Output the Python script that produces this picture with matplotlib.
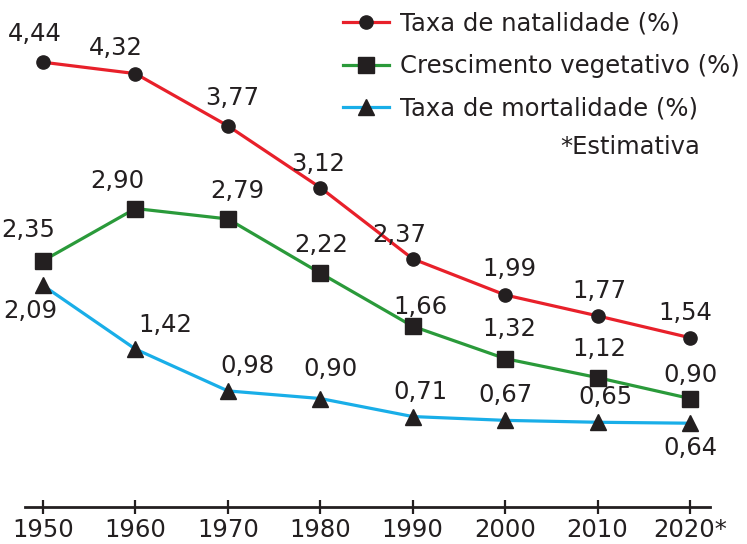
import matplotlib.pyplot as plt

plt.rcParams['font.family'] = ['DejaVu Sans']

# dados
anos = [1950, 1960, 1970, 1980, 1990, 2000, 2010, 2020]
rotulos_anos = ["1950", "1960", "1970", "1980", "1990", "2000", "2010", "2020*"]
natalidade = [4.44, 4.32, 3.77, 3.12, 2.37, 1.99, 1.77, 1.54]
crescimento = [2.35, 2.90, 2.79, 2.22, 1.66, 1.32, 1.12, 0.90]
mortalidade = [2.09, 1.42, 0.98, 0.90, 0.71, 0.67, 0.65, 0.64]

# deslocamento dos rotulos (pixels)
off_nat = [(-8, 28), (-20, 26), (4, 28), (-2, 24), (-13, 24), (4, 26), (2, 25), (-5, 25)]
off_cre = [(-15, 31), (-18, 28), (9, 28), (1, 28), (8, 19), (4, 30), (2, 29), (0, 24)]
off_mor = [(-13, -26), (30, 24), (20, 25), (10, 30), (8, 25), (0, 25), (8, 25), (0, -25)]

COR_MARC = '#231f20'
FS = 17.5


def fmt(v):
    return f"{v:.2f}".replace('.', ',')


fig = plt.figure(figsize=(7.47, 5.44), dpi=100)
ax = fig.add_axes([25 / 747, 37 / 544, 685 / 747, 507 / 544])

series = [
    (natalidade, '#e8202a', 'o', 9.5, "Taxa de natalidade (%)", off_nat),
    (crescimento, '#2a9a3a', 's', 11, "Crescimento vegetativo (%)", off_cre),
    (mortalidade, '#19aee8', '^', 12, "Taxa de mortalidade (%)", off_mor),
]

handles = []
for vals, cor, marc, ms, nome, offs in series:
    h, = ax.plot(anos, vals, color=cor, lw=2.3, marker=marc, ms=ms,
                 mfc=COR_MARC, mec=COR_MARC, label=nome, zorder=3)
    handles.append(h)
    for x, v, (dx, dy) in zip(anos, vals, offs):
        ax.annotate(fmt(v), (x, v), xytext=(dx, dy), textcoords='offset pixels',
                    ha='center', va='center', fontsize=FS, color='#231f20')

ax.set_xlim(1948.05, 2022.16)
ax.set_ylim(-0.242, 5.095)

for s in ['top', 'right', 'left']:
    ax.spines[s].set_visible(False)
ax.spines['bottom'].set_linewidth(2)
ax.spines['bottom'].set_color('#231f20')
ax.set_yticks([])
ax.set_xticks(anos)
ax.set_xticklabels(rotulos_anos)
ax.tick_params(axis='x', direction='inout', length=10, width=1.6, colors='#231f20',
               labelsize=FS, pad=3)

leg = ax.legend(handles=handles, loc='upper left', bbox_to_anchor=(343 / 747, 1 - 12 / 544),
                bbox_transform=fig.transFigure, frameon=False, fontsize=FS,
                handlelength=1.9, handletextpad=0.45, labelspacing=0.75,
                borderpad=0, borderaxespad=0)
for t in leg.get_texts():
    t.set_color('#231f20')

fig.text(560 / 747, 1 - 147 / 544, "*Estimativa", fontsize=FS, va='center',
         ha='left', color='#231f20')

fig.savefig('out.png', dpi=100)
